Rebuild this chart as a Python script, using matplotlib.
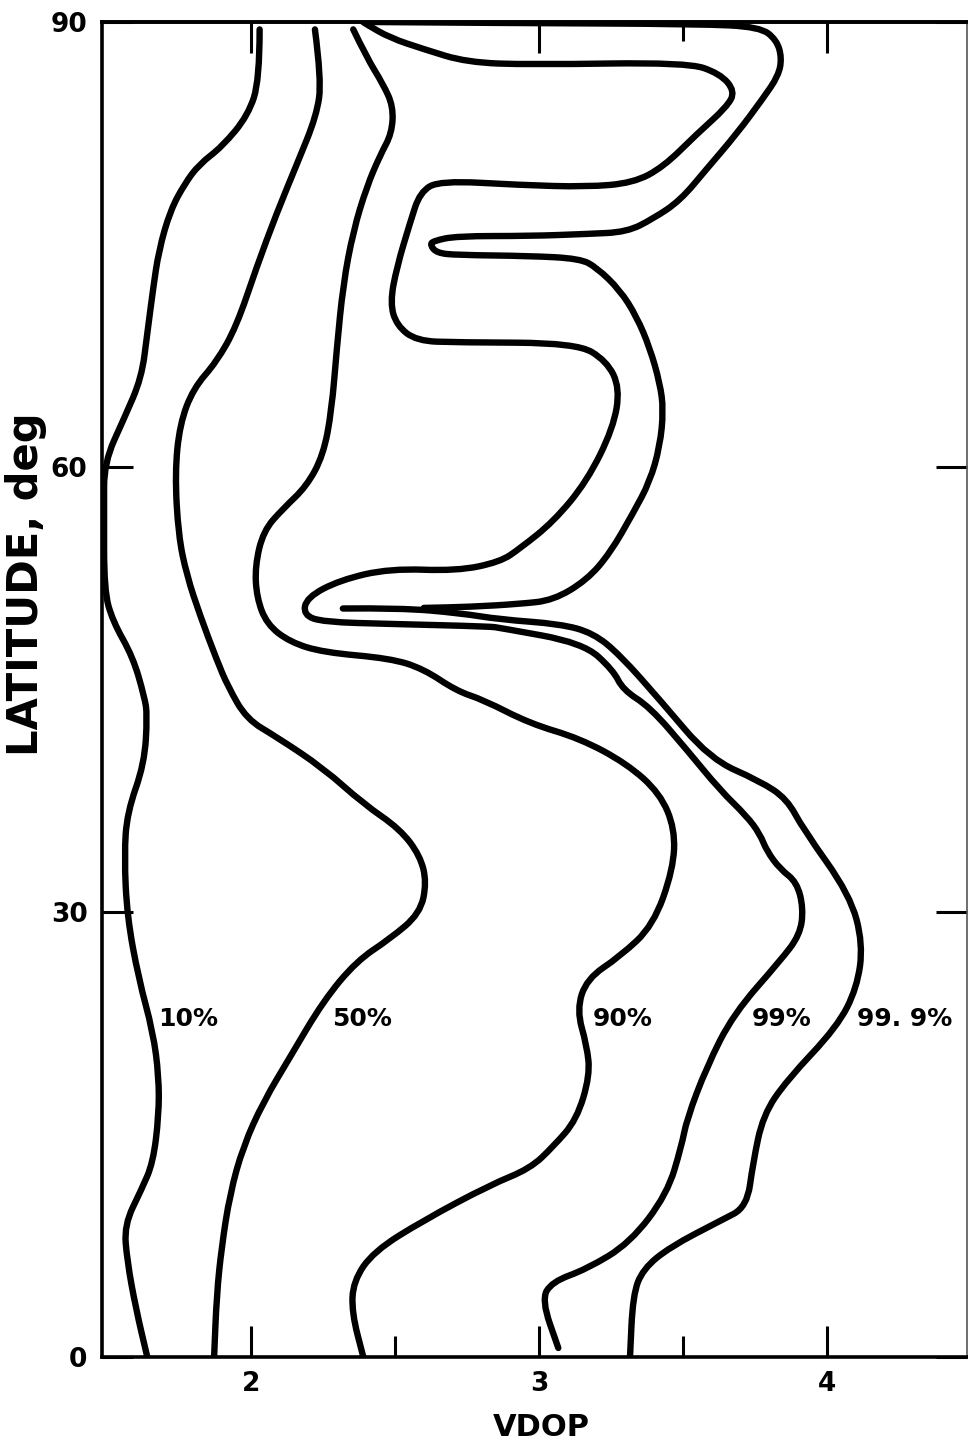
import matplotlib
matplotlib.use("Agg")
import matplotlib.pyplot as plt
from matplotlib.path import Path
from matplotlib.patches import PathPatch

# ---- data: VDOP vs latitude (deg) ----
p10_vdop = [2.03, 2.03, 1.99, 1.90, 1.82, 1.77, 1.72, 1.68, 1.66, 1.64, 1.62, 1.56, 1.49,
            1.49, 1.49, 1.52, 1.59, 1.63, 1.64, 1.63, 1.57, 1.56, 1.57, 1.61, 1.66, 1.68,
            1.68, 1.66, 1.62, 1.56, 1.57, 1.60, 1.64]
p10_lat = [89.5, 86.1, 83.7, 81.6, 80.4, 79.1, 77.3, 74.6, 72.0, 69.0, 66.0, 63.3, 60.3,
           57.1, 51.7, 49.6, 47.2, 44.5, 43.3, 40.0, 36.7, 33.8, 29.7, 25.5, 21.9, 18.9,
           16.3, 13.1, 11.3, 8.9, 6.5, 3.3, 0.0]

p50_vdop = [2.222, 2.245, 2.228, 2.159, 2.089, 2.020, 1.950, 1.881, 1.800, 1.753, 1.736,
            1.748, 1.777, 1.823, 1.881, 1.920, 1.985, 2.089, 2.251, 2.390, 2.517, 2.587,
            2.610, 2.587, 2.483, 2.367, 2.251, 2.135, 2.043, 1.973, 1.927, 1.898, 1.881, 1.872]
p50_lat = [89.5, 86.1, 83.7, 80.4, 77.1, 73.5, 69.5, 67.1, 65.3, 62.9, 59.6,
           55.4, 52.7, 50.0, 47.0, 45.2, 43.0, 41.8, 39.7, 37.3, 35.6, 33.8,
           32.0, 29.9, 28.2, 26.7, 24.0, 20.2, 17.2, 14.2, 11.0, 7.4, 4.2, 0.0]

p90_vdop = [2.355, 2.402, 2.459, 2.494, 2.489, 2.448, 2.402, 2.355, 2.320, 2.298, 2.280,
            2.251, 2.193, 2.112, 2.043, 2.014, 2.020, 2.055, 2.135, 2.251, 2.483, 2.598,
            2.714, 2.807, 2.969, 3.142, 3.305, 3.420, 3.472, 3.466, 3.397, 3.281, 3.166,
            3.131, 3.166, 3.177, 3.131, 3.050, 2.969, 2.830, 2.598, 2.425, 2.355, 2.350, 2.390]
p90_lat = [89.5, 87.6, 85.8, 84.3, 82.5, 81.0, 78.9, 75.9, 72.3, 68.0, 63.8,
           60.8, 58.7, 57.2, 55.7, 53.3, 51.2, 49.4, 48.2, 47.5, 47.1, 46.4,
           44.9, 44.3, 42.7, 41.7, 40.0, 38.0, 35.6, 32.9, 29.1, 27.0, 25.5,
           23.4, 21.0, 19.0, 16.0, 14.2, 12.7, 11.6, 9.2, 7.1, 5.1, 3.0, 0.0]

p99_vdop = [2.389, 2.402, 2.483, 2.598, 2.749, 2.969, 3.513, 3.628, 3.681, 3.652, 3.548,
            3.432, 3.327, 3.166, 2.934, 2.656, 2.587, 2.552, 2.506, 2.483, 2.506, 2.575,
            2.714, 3.131, 3.235, 3.281, 3.258, 3.166, 3.050, 2.934, 2.865, 2.714, 2.483,
            2.309, 2.193, 2.182, 2.251, 2.483, 2.830, 2.865, 3.153, 3.257, 3.292, 3.385,
            3.514, 3.628, 3.721, 3.767, 3.791, 3.837, 3.895, 3.918, 3.906, 3.837, 3.675,
            3.582, 3.513, 3.495, 3.445, 3.316, 3.166, 3.044, 3.009, 3.067]
p99_lat = [90.0, 89.83, 88.93, 88.18, 87.28, 87.12, 87.28, 86.53, 85.33, 84.27, 82.45,
           80.23, 79.15, 78.88, 79.01, 79.31, 78.54, 76.45, 73.45, 71.06, 69.54, 68.50,
           68.40, 68.36, 67.15, 65.33, 62.63, 59.02, 56.31, 54.51, 53.60, 52.99, 53.16,
           52.38, 51.20, 50.02, 49.55, 49.42, 49.25, 49.15, 48.14, 46.32, 44.97, 43.82,
           40.92, 38.23, 36.47, 35.26, 34.11, 32.90, 32.02, 30.24, 28.45, 26.70, 23.12,
           19.55, 16.01, 14.23, 10.99, 7.69, 5.93, 5.06, 3.84, 0.61]

# 99.9%: from the free stub inside the fold, down to the bottom edge
p999_vdop = [2.319, 2.517, 2.726, 2.865, 3.073, 3.188, 3.281, 3.420, 3.594, 3.767, 3.861,
             3.917, 4.080, 4.125, 4.104, 4.035, 3.861, 3.778, 3.743, 3.722, 3.628, 3.455,
             3.361, 3.326, 3.316]
p999_lat = [50.46, 50.50, 50.15, 49.72, 49.42, 48.81, 47.33, 44.29, 40.31, 38.83, 37.62,
            35.60, 31.15, 27.84, 24.88, 22.25, 18.67, 16.31, 13.08, 10.11, 9.17, 7.42,
            5.93, 4.18, 0.0]

# upper fold of the 99.9% contour (starts on the top edge, joins the stub)
p999_fold_vdop = [2.420, 2.865, 3.559, 3.767, 3.825, 3.843, 3.831, 3.779, 3.686, 3.582,
                  3.490, 3.397, 3.305, 3.166, 2.969, 2.714, 2.633, 2.622, 2.645, 2.714,
                  2.969, 3.142, 3.200, 3.281, 3.339, 3.385, 3.420, 3.432, 3.420, 3.385,
                  3.327, 3.247, 3.166, 3.050, 2.934, 2.760, 2.600]
p999_fold_lat = [90.0, 89.93, 89.87, 89.67, 88.79, 87.58, 86.37, 84.88, 82.45, 80.09,
                 77.96, 76.75, 75.84, 75.71, 75.57, 75.57, 75.24, 74.97, 74.43, 74.29,
                 74.23, 74.05, 73.45, 71.93, 70.14, 68.02, 65.63, 63.84, 61.42, 59.02,
                 56.90, 54.20, 52.38, 51.02, 50.77, 50.57, 50.50]

curve_labels = ["10%", "50%", "90%", "99%", "99. 9%"]
label_vdop = [1.677, 2.280, 3.188, 3.739, 4.104]
label_lat = [22.8, 22.8, 22.8, 22.8, 22.8]

x_major = [2, 3, 4]
x_minor = [2.5, 3.5]
y_major = [0, 30, 60, 90]
y_labels = ["0", "30", "60", "90"]


def smooth_curve(ax, xs, ys):
    # quadratic B-spline style path through the read points, drawn in data coords
    pts = list(zip(xs, ys))
    verts = [pts[0]]
    codes = [Path.MOVETO]
    for i in range(1, len(pts) - 1):
        mid = ((pts[i][0] + pts[i + 1][0]) / 2, (pts[i][1] + pts[i + 1][1]) / 2)
        verts += [pts[i], mid]
        codes += [Path.CURVE3, Path.CURVE3]
    verts.append(pts[-1])
    codes.append(Path.LINETO)
    patch = PathPatch(Path(verts, codes), fill=False, edgecolor="black", lw=4.6,
                      capstyle="round", joinstyle="round", zorder=3,
                      transform=ax.transData)
    ax.add_patch(patch)


W, H = 968, 1444
fig = plt.figure(figsize=(W / 100, H / 100), dpi=100)
L, R, T, B = 101.5, 966.7, 22, 1357
ax = fig.add_axes([L / W, 1 - B / H, (R - L) / W, (B - T) / H])

smooth_curve(ax, p10_vdop, p10_lat)
smooth_curve(ax, p50_vdop, p50_lat)
smooth_curve(ax, p90_vdop, p90_lat)
smooth_curve(ax, p99_vdop, p99_lat)
smooth_curve(ax, p999_vdop, p999_lat)
smooth_curve(ax, p999_fold_vdop, p999_fold_lat)

for txt, xv, yv in zip(curve_labels, label_vdop, label_lat):
    ax.text(xv, yv, txt, fontsize=18, fontweight="bold", ha="left", va="center")

ax.set_xlim(1.481, 4.485)
ax.set_ylim(0, 90)

ax.set_xticks(x_major)
ax.set_xticks(x_minor, minor=True)
ax.set_xticklabels([str(v) for v in x_major])
ax.set_yticks(y_major)
ax.set_yticklabels(y_labels)

ax.tick_params(axis="both", which="major", direction="in", length=22, width=2.2,
               labelsize=19, pad=10, right=True)
ax.tick_params(axis="x", which="minor", direction="in", length=15, width=2.2)
for lab in ax.get_xticklabels() + ax.get_yticklabels():
    lab.set_fontweight("bold")

for side in ["left", "bottom", "top"]:
    ax.spines[side].set_linewidth(2.6)
ax.spines["right"].set_linewidth(1.2)
ax.spines["right"].set_color("#555555")

# ticks along the top edge
top = ax.secondary_xaxis("top")
top.set_xticks(x_major)
top.set_xticks([3.5], minor=True)
top.set_xticklabels([])
top.tick_params(which="major", direction="in", length=22, width=2.2)
top.tick_params(which="minor", direction="in", length=14, width=2.2)
top.spines["top"].set_linewidth(2.6)

fig.text(541 / W, 1 - 1427 / H, "VDOP", fontsize=22, fontweight="bold",
         ha="center", va="center")
fig.text(26 / W, 1 - 584 / H, "LATITUDE, deg", fontsize=30, fontweight="bold",
         rotation=90, ha="center", va="center")

fig.savefig("out.png", dpi=100)
